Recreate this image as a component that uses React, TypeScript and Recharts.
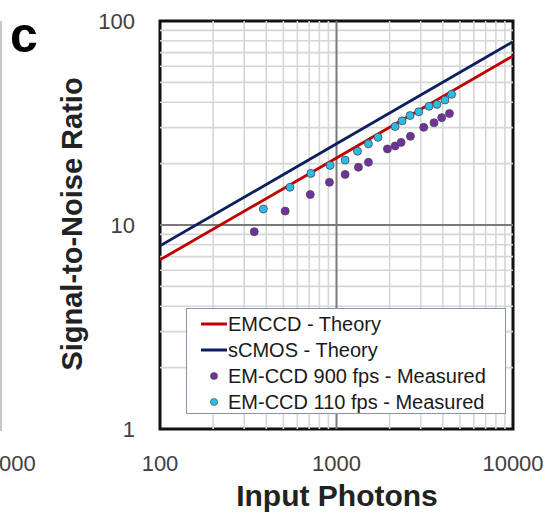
import React from 'react';
import { ComposedChart, Scatter, XAxis, YAxis, ReferenceLine, ReferenceArea, Legend } from 'recharts';

const xTicks = [100, 1000, 10000];
const yTicks = [1, 10, 100];
const xMinorGrid = [200, 300, 400, 500, 600, 700, 800, 900, 2000, 3000, 4000, 5000, 6000, 7000, 8000, 9000];
const yMinorGrid = [2, 3, 4, 5, 6, 7, 8, 9, 20, 30, 40, 50, 60, 70, 80, 90];
const xMajorGrid = [1000];
const yMajorGrid = [10];

const theoryPhotons = [100, 1000, 10000];
const emccdTheory = [6.75, 21.3, 67.4];
const scmosTheory = [7.9, 25.0, 79.2];

const em900Photons = [342, 512, 710, 912, 1119, 1331, 1517, 1944, 2148, 2322, 2624, 3119, 3568, 3945, 4365];
const em900Snr = [9.27, 11.7, 14.1, 16.2, 17.7, 19.2, 20.3, 23.6, 24.4, 25.4, 27.2, 30.1, 31.7, 33.6, 35.2];
const em110Photons = [385, 545, 716, 920, 1119, 1315, 1517, 1720, 2148, 2352, 2611, 2924, 3344, 3709, 4118, 4490];
const em110Snr = [11.98, 15.3, 17.9, 19.6, 20.8, 23.0, 25.0, 26.9, 30.4, 32.4, 34.4, 35.9, 38.2, 39.0, 41.0, 43.7];

const seriesNames = ['EMCCD - Theory', 'sCMOS - Theory', 'EM-CCD 900 fps - Measured', 'EM-CCD 110 fps - Measured'];

const FONT = '"Liberation Sans", Arial, sans-serif';
const RED = '#c00000';
const NAVY = '#0c1f5e';
const PURPLE = '#7030a0';
const CYAN = '#2bbbe8';

const zip = (xs: number[], ys: number[]) => xs.map((x, i) => ({ x, y: ys[i] }));
const emccdData = zip(theoryPhotons, emccdTheory);
const scmosData = zip(theoryPhotons, scmosTheory);
const em900Data = zip(em900Photons, em900Snr);
const em110Data = zip(em110Photons, em110Snr);

const NoShape = () => <g />;
const dot = (fill: string) => (props: any) => (
  <circle cx={props.cx} cy={props.cy} r={4} fill={fill} stroke="#4a4a4a" strokeWidth={0.8} />
);

const legendItems = [
  { name: seriesNames[0], kind: 'line', color: RED },
  { name: seriesNames[1], kind: 'line', color: NAVY },
  { name: seriesNames[2], kind: 'dot', color: PURPLE },
  { name: seriesNames[3], kind: 'dot', color: CYAN },
];

const LegendBox = () => (
  <div
    style={{
      width: 320,
      height: 106,
      boxSizing: 'border-box',
      border: '1.5px solid #8793ad',
      background: '#fff',
      paddingTop: 2,
      fontFamily: FONT,
    }}
  >
    {legendItems.map((it) => (
      <div key={it.name} style={{ display: 'flex', alignItems: 'center', height: 26 }}>
        <svg width={41} height={26} style={{ flex: 'none' }}>
          {it.kind === 'line' ? (
            <line x1={14} x2={40} y1={13} y2={13} stroke={it.color} strokeWidth={3} />
          ) : (
            <circle cx={27} cy={13} r={3.6} fill={it.color} stroke="#4a4a4a" strokeWidth={0.6} />
          )}
        </svg>
        <span style={{ fontSize: 20, color: '#1a1a1a', whiteSpace: 'nowrap', lineHeight: '26px' }}>{it.name}</span>
      </div>
    ))}
  </div>
);

export default function App() {
  return (
    <div style={{ position: 'absolute', left: 0, top: 0, width: 551, height: 515, background: '#fff' }}>
      <svg width={551} height={515} style={{ position: 'absolute', left: 0, top: 0 }}>
        <line x1={1} x2={1} y1={21} y2={431} stroke="#b5b5b5" strokeWidth={1.5} />
        <text x={10} y={52} fontFamily={FONT} fontWeight="bold" fontSize={50} fill="#000">c</text>
        <text x={-1} y={471} fontFamily={FONT} fontSize={22} fill="#404040">000</text>
      </svg>
      <div style={{ position: 'absolute', left: 0, top: 0 }}>
        <ComposedChart width={551} height={515} margin={{ top: 21, right: 38, bottom: 0, left: 0 }}>
          <XAxis
            dataKey="x"
            type="number"
            scale="log"
            domain={[100, 10000]}
            ticks={xTicks}
            allowDataOverflow
            axisLine={false}
            tickLine={false}
            tickSize={0}
            tickMargin={26}
            height={86}
            interval={0}
            tick={{ fill: '#404040', fontSize: 22, fontFamily: FONT }}
            label={{
              content: () => (
                <text x={337} y={506} textAnchor="middle" fontFamily={FONT} fontWeight="bold" fontSize={30} fill="#222">
                  Input Photons
                </text>
              ),
            }}
          />
          <YAxis
            dataKey="y"
            type="number"
            scale="log"
            domain={[1, 100]}
            ticks={yTicks}
            allowDataOverflow
            axisLine={false}
            tickLine={false}
            tickSize={0}
            tickMargin={25}
            width={160}
            interval={0}
            tick={{ fill: '#404040', fontSize: 22, fontFamily: FONT }}
            label={{
              content: () => (
                <text
                  transform="translate(82,224) rotate(-90)"
                  textAnchor="middle"
                  fontFamily={FONT}
                  fontWeight="bold"
                  fontSize={29}
                  fill="#222"
                >
                  Signal-to-Noise Ratio
                </text>
              ),
            }}
          />
          {xMinorGrid.map((v) => (
            <ReferenceLine key={'vx' + v} x={v} stroke="#d6d6d6" strokeWidth={1.6} />
          ))}
          {yMinorGrid.map((v) => (
            <ReferenceLine key={'hy' + v} y={v} stroke="#d6d6d6" strokeWidth={1.6} />
          ))}
          {xMajorGrid.map((v) => (
            <ReferenceLine key={'Vx' + v} x={v} stroke="#7a7a7a" strokeWidth={2} />
          ))}
          {yMajorGrid.map((v) => (
            <ReferenceLine key={'Hy' + v} y={v} stroke="#7a7a7a" strokeWidth={2} />
          ))}
          <Scatter name={seriesNames[0]} data={emccdData} line={{ stroke: RED, strokeWidth: 2.8 }} shape={NoShape} isAnimationActive={false} />
          <Scatter name={seriesNames[1]} data={scmosData} line={{ stroke: NAVY, strokeWidth: 2.8 }} shape={NoShape} isAnimationActive={false} />
          <Scatter name={seriesNames[2]} data={em900Data} shape={dot(PURPLE)} isAnimationActive={false} />
          <Scatter name={seriesNames[3]} data={em110Data} shape={dot(CYAN)} isAnimationActive={false} />
          <ReferenceArea x1={100} x2={10000} y1={1} y2={100} fill="none" fillOpacity={0} stroke="#111" strokeWidth={3} />
          <Legend
            layout="vertical"
            align="center"
            verticalAlign="middle"
            content={() => <LegendBox />}
            wrapperStyle={{ left: 186, top: 308, width: 320, height: 106 }}
          />
        </ComposedChart>
      </div>
    </div>
  );
}
